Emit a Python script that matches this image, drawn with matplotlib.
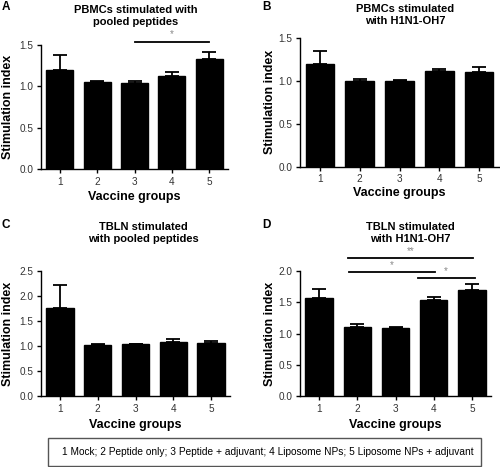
import matplotlib
matplotlib.use("Agg")
import matplotlib.pyplot as plt
import numpy as np
from matplotlib.patches import Rectangle

plt.rcParams['font.family'] = ['Liberation Sans', 'DejaVu Sans']

groups = [1, 2, 3, 4, 5]
tick_labels = ["1", "2", "3", "4", "5"]

a_vals = [1.20, 1.05, 1.035, 1.13, 1.33]
a_tops = [1.385, 1.063, 1.065, 1.17, 1.41]
b_vals = [1.19, 1.00, 0.995, 1.11, 1.10]
b_tops = [1.34, 1.025, 1.005, 1.14, 1.16]
c_vals = [1.77, 1.03, 1.04, 1.09, 1.07]
c_tops = [2.22, 1.04, 1.05, 1.14, 1.10]
d_vals = [1.57, 1.105, 1.09, 1.53, 1.69]
d_tops = [1.705, 1.155, 1.10, 1.59, 1.80]

titles = ["PBMCs stimulated with\npooled peptides",
          "PBMCs stimulated\nwith H1N1-OH7",
          "TBLN stimulated\nwith pooled peptides",
          "TBLN stimulated\nwith H1N1-OH7"]
letters = ["A", "B", "C", "D"]
ylims = [1.5, 1.5, 2.5, 2.0]
yticks = [np.arange(0, 1.51, 0.5), np.arange(0, 1.51, 0.5),
          np.arange(0, 2.51, 0.5), np.arange(0, 2.01, 0.5)]

# significance bars: (x_start, x_end, y, label)
a_sig = [(3.0, 5.0, 1.536, "*")]
d_sig = [(1.75, 5.02, 2.203, "**"), (1.79, 4.04, 1.979, "*"), (3.58, 5.07, 1.883, "*")]

legend_text = "1 Mock; 2 Peptide only; 3 Peptide + adjuvant; 4 Liposome NPs; 5 Liposome NPs + adjuvant"

W, H = 500, 467
fig = plt.figure(figsize=(W / 100, H / 100), dpi=100)

def px_axes(l, r, t, b):
    return fig.add_axes([l / W, 1 - b / H, (r - l) / W, (b - t) / H])

boxes = [(41, 228, 45, 169), (300, 499, 37.7, 166.7), (41, 230, 271, 396), (300, 491, 271, 396)]
vals = [a_vals, b_vals, c_vals, d_vals]
tops = [a_tops, b_tops, c_tops, d_tops]
sigs = [a_sig, [], [], d_sig]
title_pos = [(136, 16), (405, 15), (143, 233), (410, 233)]
letter_pos = [(2, 7), (262, 7), (2, 225), (262, 225)]
ylab_x = [8, 270, 8, 270]
xlab_y = [197, 193, 425, 425]

for i in range(4):
    ax = px_axes(*boxes[i])
    v = np.array(vals[i]); t = np.array(tops[i])
    ax.bar(groups, v, width=0.72, color='black', edgecolor='black', zorder=2)
    ax.errorbar(groups, v, yerr=[np.zeros(5), t - v], fmt='none', ecolor='black',
                elinewidth=1.3, capsize=5.0, capthick=1.3, zorder=3)
    ax.set_xlim(0.5, 5.5)
    ax.set_ylim(0, ylims[i])
    ax.set_yticks(yticks[i])
    ax.set_yticklabels([f"{y:.1f}" for y in yticks[i]])
    ax.set_xticks(groups)
    ax.set_xticklabels(tick_labels)
    for s in ['top', 'right']:
        ax.spines[s].set_visible(False)
    for s in ['left', 'bottom']:
        ax.spines[s].set_linewidth(1.0)
    ax.tick_params(axis='both', direction='out', length=3, width=1.0,
                   labelsize=7.2, labelcolor='#333333', pad=2.5)
    for (x0, x1, y, lab) in sigs[i]:
        ax.plot([x0, x1], [y, y], color='black', lw=1.3, clip_on=False, zorder=4)
        ax.text((x0 + x1) / 2, y + 0.03 * ylims[i] / 1.5, lab, ha='center', va='bottom',
                fontsize=7, color='#888888', clip_on=False)
    # labels
    cy = (boxes[i][2] + boxes[i][3]) / 2
    fig.text(ylab_x[i] / W, 1 - cy / H, "Stimulation index", rotation=90,
             ha='center', va='center', fontsize=9, fontweight='bold')
    cx = (boxes[i][0] + boxes[i][1]) / 2
    fig.text(cx / W, 1 - xlab_y[i] / H, "Vaccine groups", ha='center', va='center',
             fontsize=9, fontweight='bold')
    tx, ty = title_pos[i]
    fig.text(tx / W, 1 - ty / H, titles[i], ha='center', va='center',
             fontsize=8, fontweight='bold', linespacing=1.35)
    lx, ly = letter_pos[i]
    fig.text(lx / W, 1 - ly / H, letters[i], ha='left', va='center',
             fontsize=8.5, fontweight='bold')

# legend box
fig.patches.append(Rectangle((48.3 / W, 1 - 465.7 / H), (481 - 48.3) / W, (465.7 - 438.3) / H,
                             transform=fig.transFigure, fill=False, edgecolor='#555555', lw=1.0))
fig.text(267.5 / W, 1 - 452 / H, legend_text, ha='center', va='center', fontsize=7.25)

fig.savefig("out.png", dpi=100)
